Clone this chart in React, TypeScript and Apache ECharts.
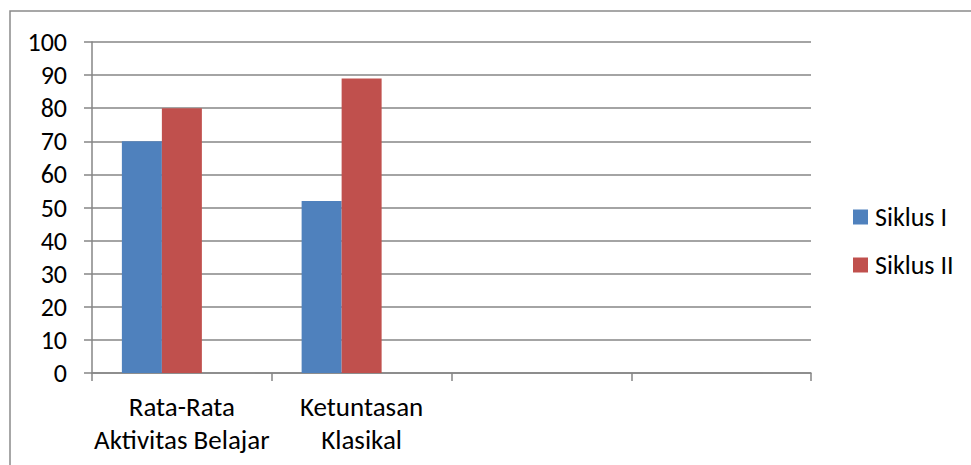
import React, { useEffect, useRef } from "react";
import * as echarts from "echarts";

const categories = ["Rata-Rata\nAktivitas Belajar", "Ketuntasan\nKlasikal", "", ""];
const siklusI = [70, 52, null, null];
const siklusII = [80, 89, null, null];
const hiddenSeries = [null, null, null, null];
const seriesNames = ["Siklus I", "Siklus II"];
const yTicks = { min: 0, max: 100, interval: 10 };

const FONT = "Carlito, Lato, 'Open Sans', sans-serif";

export default function App() {
  const ref = useRef<HTMLDivElement>(null);
  useEffect(() => {
    if (!ref.current) return;
    const chart = echarts.init(ref.current, null, { renderer: "svg" });
    chart.setOption({
      animation: false,
      backgroundColor: "#ffffff",
      graphic: [
        {
          type: "rect",
          shape: { x: 10, y: 11, width: 1000, height: 500 },
          style: { fill: "none", stroke: "#8a8a8a", lineWidth: 1.5 },
          silent: true,
        },
      ],
      grid: { left: 92, right: 160, top: 42, bottom: 92 },
      legend: {
        orient: "vertical",
        left: 853,
        top: 204,
        padding: 0,
        data: seriesNames,
        itemWidth: 15,
        itemHeight: 15,
        itemGap: 22,
        icon: "rect",
        textStyle: { fontFamily: FONT, fontSize: 26, color: "#000", lineHeight: 26, padding: [0, 0, 0, 2] },
      },
      xAxis: {
        type: "category",
        data: categories,
        axisLine: { lineStyle: { color: "#868686", width: 1.5 } },
        axisTick: { show: true, length: 8, lineStyle: { color: "#868686", width: 1.5 } },
        axisLabel: {
          fontFamily: FONT,
          fontSize: 27,
          color: "#000",
          lineHeight: 33,
          margin: 17,
          interval: 0,
        },
      },
      yAxis: {
        type: "value",
        min: yTicks.min,
        max: yTicks.max,
        interval: yTicks.interval,
        axisLine: { show: true, lineStyle: { color: "#868686", width: 1.5 } },
        axisTick: { show: true, length: 8, lineStyle: { color: "#868686", width: 1.5 } },
        splitLine: { lineStyle: { color: "#868686", width: 1.5 } },
        axisLabel: { fontFamily: FONT, fontSize: 26, color: "#000", margin: 25 },
      },
      series: [
        {
          name: seriesNames[0],
          type: "bar",
          data: siklusI,
          barWidth: 40,
          barGap: "0%",
          itemStyle: { color: "#4F81BD" },
        },
        {
          name: seriesNames[1],
          type: "bar",
          data: siklusII,
          barWidth: 40,
          barGap: "0%",
          itemStyle: { color: "#C0504D" },
        },
        {
          name: "_hidden",
          type: "bar",
          data: hiddenSeries,
          barWidth: 40,
          barGap: "0%",
          itemStyle: { color: "transparent" },
        },
      ],
    });
    return () => chart.dispose();
  }, []);
  return (
    <div
      ref={ref}
      style={{ position: "fixed", left: 0, top: 0, width: 971, height: 465 }}
    />
  );
}
